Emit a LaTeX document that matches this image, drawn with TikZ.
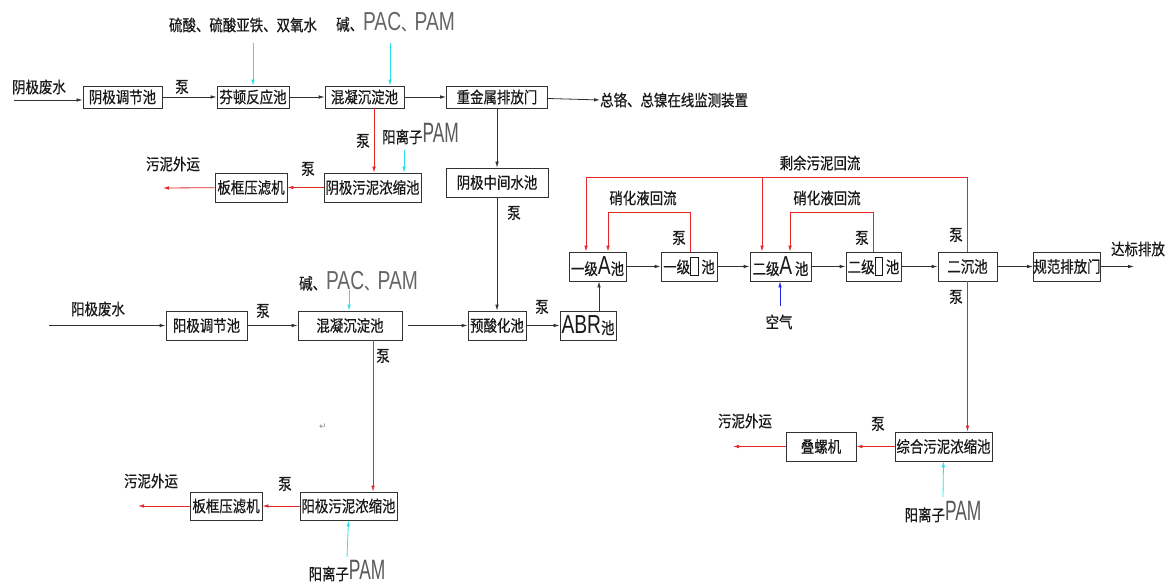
\documentclass[tikz,border=0pt]{standalone}
\usepackage{fontspec}
\usetikzlibrary{arrows.meta}
\newfontfamily\cjk[FakeStretch=0.84,FakeBold=0.6]{Noto Sans CJK SC}
\newfontfamily\latf[FakeStretch=0.74]{Liberation Sans}
\newfontfamily\latn[FakeStretch=0.62]{Liberation Sans}
\newcommand\cfont{\cjk\fontsize{16}{18}\selectfont}
\newcommand\latbig[2][25]{{\latf\fontsize{#1}{#1}\selectfont #2}}
\newcommand\latpam[1]{{\latn\fontsize{28}{28}\selectfont #1}}
\newcommand\obox{\raisebox{-2pt}{\setlength{\fboxsep}{0pt}\setlength{\fboxrule}{0.8pt}\fbox{\rule{0pt}{17pt}\hspace{7pt}}}}
\definecolor{lred}{RGB}{228,40,40}
\definecolor{lcyan}{RGB}{40,225,235}
\definecolor{lblue}{RGB}{30,40,230}
\definecolor{lgray}{RGB}{50,50,50}
\tikzset{
  box/.style={draw=lgray,line width=0.8pt,inner sep=0pt,font=\cfont,text=black!90},
  lbl/.style={inner sep=0pt,font=\cfont,text=black!90},
  tip/.style={-{Latex[length=6pt,width=3.6pt]}},
  arr/.style={tip,draw=lgray,line width=0.8pt},
  redarr/.style={tip,draw=lred,line width=0.8pt},
  redline/.style={draw=lred,line width=0.8pt},
  cyanarr/.style={tip,draw=lcyan,line width=0.8pt},
  bluearr/.style={tip,draw=lblue,line width=0.8pt},
}
\begin{document}
\begin{tikzpicture}[x=1pt,y=-1pt]
\fill[white] (0,0) rectangle (1175,588);
\useasboundingbox (0,0) rectangle (1175,588);

% ---------- row 1 (cathode) ----------
\node[box,minimum width=79,minimum height=22] (c1) at (122.5,97) {阴极调节池};
\node[box,minimum width=72,minimum height=22] (c2) at (253,97) {芬顿反应池};
\node[box,minimum width=79,minimum height=22] (c3) at (364.5,97) {混凝沉淀池};
\node[box,minimum width=101,minimum height=22] (c4) at (497,97) {重金属排放门};

\node[lbl] (lc0) at (39,87) {阴极废水};
\coordinate (c0) at (14,100);
\draw[arr] (c0) -- (c0 -| c1.west);
\draw[arr] (c1) -- (c2);
\node[lbl] at (182,87) {泵};
\draw[arr] (c2) -- (c3);
\draw[arr] (c3) -- (c4);
\node[lbl,anchor=west] (mon) at (600,100) {总铬、总镍在线监测装置};
\draw[arr] (c4) -- (mon.west);

\node[lbl] (t1) at (243,25) {硫酸、硫酸亚铁、双氧水};
\node[lbl,anchor=west] (t2) at (336,22) {碱、{\color{black!60}\latbig[26]{PAC}、\latbig[26]{PAM}}};
\coordinate (k1) at (253,43);
\coordinate (k2) at (390,43);
\draw[cyanarr] (k1) -- (c2.north);
\draw[cyanarr] (k2) -- (k2 |- c3.north);

% cathode sludge
\node[box,minimum width=97,minimum height=29] (a1) at (372.5,187.5) {阴极污泥浓缩池};
\node[box,minimum width=72,minimum height=29] (a2) at (251,187.5) {板框压滤机};
\coordinate (ra) at (374,0);
\draw[redarr] (ra |- c3.south) -- (ra |- a1.north);
\node[lbl] at (363,141) {泵};
\node[lbl,anchor=west] (pam1) at (382,134) {阳离子{\color{black!65}\latpam{PAM}}};
\coordinate (k3) at (404,150);
\draw[cyanarr] (k3) -- (k3 |- a1.north);
\draw[redarr] (a1) -- (a2);
\node[lbl] at (308,169) {泵};
\coordinate (o1) at (163,188);
\draw[redarr] (a2) -- (o1);
\node[lbl] at (173,164) {污泥外运};

% cathode middle tank
\node[box,minimum width=102,minimum height=29] (m1) at (497,182.5) {阴极中间水池};
\draw[arr] (c4) -- (m1);
\node[lbl] at (514,213) {泵};

% ---------- row 2 (anode) ----------
\node[box,minimum width=81,minimum height=29] (b1) at (206.5,325.5) {阳极调节池};
\node[box,minimum width=104,minimum height=29] (b2) at (350,325.5) {混凝沉淀池};
\node[box,minimum width=58,minimum height=29] (p1) at (497,325.5) {预酸化池};
\node[box,minimum width=56,minimum height=29] (p2) at (588,325.5) {\latbig[26]{ABR}池};

\node[lbl] (lb0) at (98,309) {阳极废水};
\coordinate (b0) at (49,325.5);
\draw[arr] (b0) -- (b1);
\draw[arr] (b1) -- (b2);
\node[lbl] at (263,311) {泵};
\draw[arr] ([xshift=6]b2.east) -- (p1);
\draw[arr] (m1) -- (p1);
\draw[arr] (p1) -- (p2);
\node[lbl] at (542,307) {泵};

\node[lbl,anchor=west] (t3) at (299,281) {碱、{\color{black!60}\latbig[26]{PAC}、\latbig[26]{PAM}}};
\coordinate (k4) at (349,290);
\draw[cyanarr] (k4) -- (k4 |- b2.north);

\node[box,minimum width=97,minimum height=28] (b3) at (348.5,506) {阳极污泥浓缩池};
\node[box,minimum width=72,minimum height=28] (b4) at (226,506) {板框压滤机};
\coordinate (rb) at (373,0);
\draw[redarr] (rb |- b2.south) -- (rb |- b3.north);
\node[lbl] at (383,356) {泵};
\node[lbl,text=black!45,font=\fontspec{DejaVu Sans}\fontsize{9}{9}\selectfont] at (323,427) {↵};
\draw[redarr] (b3) -- (b4);
\node[lbl] at (285,484) {泵};
\coordinate (o2) at (138,506);
\draw[redarr] (b4) -- (o2);
\node[lbl] at (151,481) {污泥外运};
\node[lbl] (pam2) at (347,571) {阳离子{\color{black!65}\latpam{PAM}}};
\coordinate (k5) at (347,557);
\draw[cyanarr] (k5) -- (b3.south);

% ---------- biological line ----------
\node[box,minimum width=57,minimum height=29] (r1) at (597.5,266.5) {一级\latbig[26]{A}池};
\node[box,minimum width=56,minimum height=29] (r2) at (689,266.5) {一级\obox\,池};
\node[box,minimum width=61,minimum height=29] (r3) at (780.5,266.5) {二级\latbig[26]{A}\,池};
\node[box,minimum width=55,minimum height=29] (r4) at (873.5,266.5) {二级\obox\,池};
\node[box,minimum width=59,minimum height=29] (r5) at (967.5,266.5) {二沉池};
\node[box,minimum width=66,minimum height=29] (r6) at (1067,266.5) {规范排放门};

\draw[arr] (p2.north -| 599,0) -- (r1.south -| 599,0);
\draw[arr] (r1) -- (r2);
\draw[arr] (r2) -- (r3);
\draw[arr] (r3) -- (r4);
\draw[arr] (r4) -- (r5);
\draw[arr] (r5) -- (r6);
\coordinate (o3) at (1134,266.5);
\draw[arr] (r6) -- (o3);
\node[lbl] at (1138,249) {达标排放};

\node[lbl] (air) at (779,322) {空气};
\coordinate (k6) at (780,306);
\draw[bluearr] (k6) -- (k6 |- r3.south);

% return loops
\coordinate (L1) at (586,177);
\coordinate (L2) at (762,177);
\draw[redline] (r5.north) |- (L1);
\draw[redarr] (L1) -- (L1 |- r1.north);
\draw[redarr] (L2) -- (L2 |- r3.north);
\node[lbl] at (820,163) {剩余污泥回流};

\coordinate (N1) at (608,212);
\draw[redline] (r2.north -| 690,0) |- (N1);
\draw[redarr] (N1) -- (N1 |- r1.north);
\node[lbl] at (643,198) {硝化液回流};
\node[lbl] at (679,238) {泵};

\coordinate (N2) at (790,212);
\draw[redline] (r4.north -| 873,0) |- (N2);
\draw[redarr] (N2) -- (N2 |- r3.north);
\node[lbl] at (827,198) {硝化液回流};
\node[lbl] at (862,238) {泵};

\node[lbl] at (956,235) {泵};
\node[lbl] at (956,297) {泵};

% combined sludge
\node[box,minimum width=97,minimum height=29] (z1) at (943.5,446.5) {综合污泥浓缩池};
\node[box,minimum width=70,minimum height=29] (z2) at (821,446.5) {叠螺机};
\draw[redarr] (r5.south) -- (r5.south |- z1.north);
\draw[redarr] (z1) -- (z2);
\node[lbl] at (878,424) {泵};
\coordinate (o4) at (733,446.5);
\draw[redarr] (z2) -- (o4);
\node[lbl] at (745,421) {污泥外运};
\node[lbl] (pam3) at (943,512) {阳离子{\color{black!65}\latpam{PAM}}};
\coordinate (k7) at (943,497);
\draw[cyanarr] (k7) -- (z1.south);
\end{tikzpicture}
\end{document}
